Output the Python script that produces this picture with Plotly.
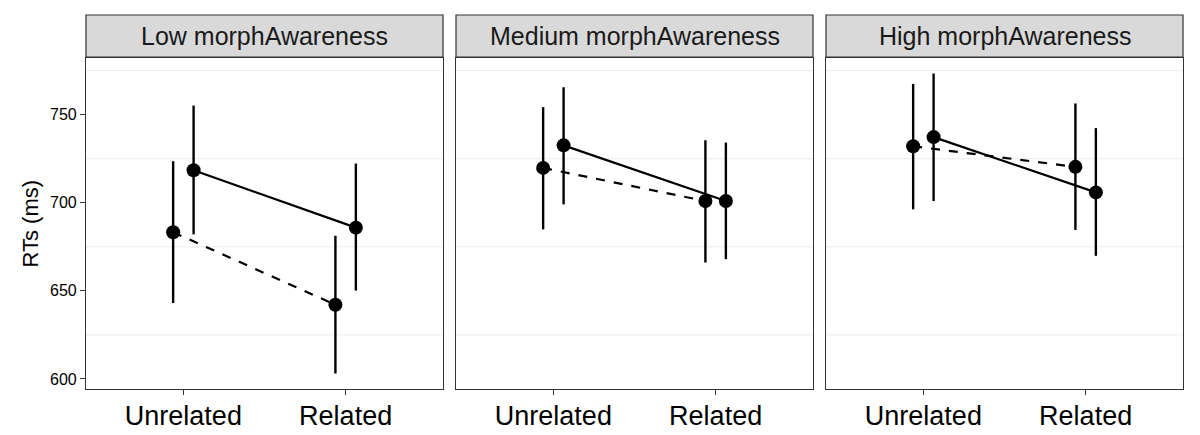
import plotly.graph_objects as go

panels = ["Low morphAwareness", "Medium morphAwareness", "High morphAwareness"]
conditions = ["Unrelated", "Related"]

# group A (dashed line, dodged left) and group B (solid line, dodged right)
a_mean = [[683.3, 642.1], [719.8, 701.0], [732.1, 720.4]]
a_low = [[643.1, 603.1], [684.9, 666.1], [696.3, 684.6]]
a_high = [[723.6, 681.3], [754.3, 735.5], [767.5, 756.4]]

b_mean = [[718.5, 685.9], [732.6, 701.0], [737.3, 705.9]]
b_low = [[682.1, 650.2], [699.1, 668.0], [701.0, 669.9]]
b_high = [[755.2, 722.3], [765.6, 734.2], [773.4, 742.4]]

y_ticks = [600, 650, 700, 750]
y_grid = [625, 675, 725, 775]
dodge = 0.063

W, H = 1200, 435
ml, mr, mt, mb = 86, 17, 58, 46
pw = W - ml - mr
ph = H - mt - mb
panel_px = [(86, 443), (456, 813), (826, 1183)]
domains = [[(a - ml) / pw, (b - ml) / pw] for a, b in panel_px]

fig = go.Figure()
font = "Liberation Sans, Arial, sans-serif"
border = "#333333"

for i in range(3):
    xa = "x" if i == 0 else f"x{i+1}"
    ya = "y" if i == 0 else f"y{i+1}"
    for means, lows, highs, off, dash in [
        (a_mean[i], a_low[i], a_high[i], -dodge, "dash"),
        (b_mean[i], b_low[i], b_high[i], dodge, "solid"),
    ]:
        xs = [k + 1 + off for k in range(len(conditions))]
        fig.add_trace(go.Scatter(
            x=xs, y=means, xaxis=xa, yaxis=ya, mode="lines",
            line=dict(color="black", width=2.2, dash=dash),
            showlegend=False, hoverinfo="skip"))
        fig.add_trace(go.Scatter(
            x=xs, y=means, xaxis=xa, yaxis=ya, mode="markers",
            marker=dict(color="black", size=14),
            error_y=dict(type="data", symmetric=False,
                         array=[h - m for h, m in zip(highs, means)],
                         arrayminus=[m - l for m, l in zip(means, lows)],
                         width=0, thickness=2.4, color="black"),
            showlegend=False))
    # strip header
    fig.add_shape(type="rect", xref="paper", yref="paper",
                  x0=domains[i][0], x1=domains[i][1],
                  y0=1 + 1 / ph, y1=1 + 43 / ph,
                  fillcolor="#D9D9D9", line=dict(color=border, width=1.2),
                  layer="below")
    fig.add_annotation(text=panels[i], xref="paper", yref="paper",
                       x=(domains[i][0] + domains[i][1]) / 2,
                       y=1 + 22 / ph, showarrow=False,
                       font=dict(family=font, size=25, color="#1A1A1A"),
                       xanchor="center", yanchor="middle")
    for g in y_grid:
        fig.add_shape(type="line", xref=f"{xa} domain", yref=ya,
                      x0=0, x1=1, y0=g, y1=g,
                      line=dict(color="#EBEBEB", width=1), layer="below")

# y-axis title
fig.add_annotation(text="RTs (ms)", xref="paper", yref="paper",
                   x=(30 - ml) / pw, y=0.5, textangle=-90, showarrow=False,
                   font=dict(family=font, size=22, color="black"),
                   xanchor="center", yanchor="middle")

layout = dict(
    width=W, height=H,
    margin=dict(l=ml, r=mr, t=mt, b=mb, autoexpand=False),
    plot_bgcolor="white", paper_bgcolor="white",
    font=dict(family=font, color="black"),
)
for i in range(3):
    xk = "xaxis" if i == 0 else f"xaxis{i+1}"
    yk = "yaxis" if i == 0 else f"yaxis{i+1}"
    layout[xk] = dict(
        domain=domains[i], range=[0.4, 2.6],
        tickvals=[1, 2], ticktext=conditions,
        tickfont=dict(size=27, color="black", family=font),
        ticks="outside", ticklen=5, tickcolor=border,
        ticklabelstandoff=-3,
        showgrid=False, zeroline=False, automargin=False,
        showline=True, linecolor=border, linewidth=1.2, mirror=True,
        anchor="y" if i == 0 else f"y{i+1}",
    )
    layout[yk] = dict(
        range=[594.3, 782.2], tickvals=y_ticks,
        showticklabels=(i == 0),
        tickfont=dict(size=16, color="black", family=font),
        ticks="outside" if i == 0 else "", ticklen=5, tickcolor=border,
        showgrid=False, zeroline=False, automargin=False,
        showline=True, linecolor=border, linewidth=1.2, mirror=True,
        anchor="x" if i == 0 else f"x{i+1}",
    )

fig.update_layout(**layout)
fig.write_html("out.html",
               config={"displayModeBar": False},
               post_script="document.body.style.margin='0';document.body.style.overflow='hidden';")
